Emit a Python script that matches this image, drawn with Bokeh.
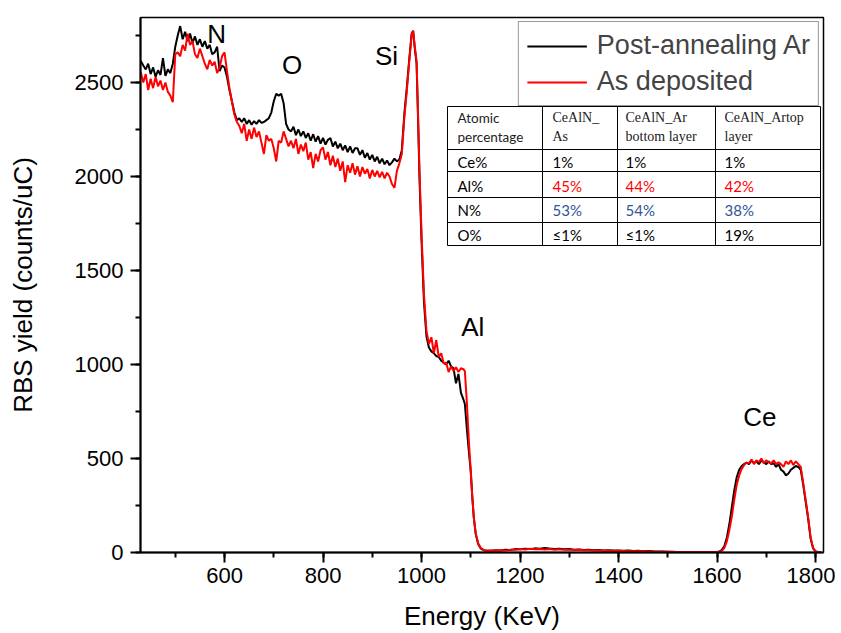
from bokeh.plotting import figure
from bokeh.models import Range1d, Legend, LegendItem, SingleIntervalTicker
from bokeh.core.properties import value
from bokeh.embed import file_html
from bokeh.resources import INLINE

# ---------------- data ----------------
energy = (list(range(430, 955, 5))
          + [955, 960, 965, 970, 975, 980, 983, 986, 990, 993, 996, 1000, 1005, 1010]
          + [1015, 1020, 1025, 1030, 1035, 1040, 1045, 1050, 1055, 1060, 1065, 1070, 1075,
             1080, 1085, 1088, 1092, 1096, 1100, 1103, 1106, 1110, 1115, 1120, 1125]
          + list(range(1130, 1610, 10))
          + list(range(1605, 1815, 5)))

post_ar = ([2615, 2590, 2570, 2600, 2545, 2580, 2530, 2565, 2540, 2630, 2535, 2570, 2550, 2600]
           + [2690, 2750, 2800, 2730, 2770, 2720, 2760, 2710, 2745, 2700, 2730, 2690, 2720, 2680,
              2700, 2650, 2660, 2690, 2560, 2590]
           + [2580, 2530, 2460, 2400, 2340, 2300, 2310, 2290, 2310, 2280, 2300, 2275, 2295, 2280,
              2300, 2285, 2290, 2300, 2310]
           + [2340, 2400, 2440, 2430, 2440, 2390, 2280, 2250]
           + [2240, 2265, 2220, 2250, 2215, 2240, 2205, 2230, 2190, 2225, 2185, 2215, 2175, 2205,
              2170, 2195, 2205, 2160, 2185, 2150, 2175, 2140, 2165, 2130, 2160, 2125, 2150, 2150,
              2115, 2140, 2100, 2125, 2090, 2115, 2080, 2105, 2070, 2095, 2065, 2085, 2060, 2075,
              2095, 2080]
           + [2090, 2140, 2330, 2470, 2620, 2760, 2775, 2690, 2600, 2300, 1980, 1660, 1330, 1150]
           + [1090, 1070, 1060, 1045, 1040, 1020, 1010, 1000, 1020, 990, 980, 900, 950, 850, 815,
              790, 660, 540, 430, 300, 190, 100, 45, 22, 14]
           + [10, 9, 12, 11, 14, 13, 18, 17, 20, 18, 22, 20, 24, 21, 19, 20, 17, 18, 15, 16,
              13, 14, 12, 13, 11, 12, 10, 11, 9, 10, 8, 9, 7, 8, 6, 5, 5, 4, 4, 3, 3, 3, 2, 2, 2, 3, 3, 4]
           + [6, 14, 35, 80, 150, 240, 330, 400, 440, 460, 470, 478, 470, 490, 475, 485, 470, 490,
              480, 470, 485, 470, 475, 455, 470, 440, 430, 410, 420, 440, 450, 460, 455, 440, 360,
              270, 180, 75, 22, 6, 3, 2])

as_deposited = ([2555, 2500, 2545, 2460, 2520, 2470, 2530, 2480, 2510, 2460, 2500, 2450, 2430, 2395]
                + [2650, 2660, 2640, 2700, 2670, 2760, 2700, 2720, 2650, 2630, 2680, 2640, 2600, 2570,
                   2620, 2590, 2610, 2550, 2580, 2640]
                + [2660, 2560, 2470, 2400, 2330, 2290, 2270, 2230, 2280, 2190, 2250, 2200, 2260, 2210,
                   2240, 2180, 2120, 2220, 2190]
                + [2200, 2150, 2080, 2190, 2180, 2240, 2200, 2160]
                + [2190, 2150, 2200, 2120, 2170, 2135, 2180, 2090, 2130, 2045, 2120, 2080, 2140, 2155,
                   2090, 2130, 2060, 2110, 2050, 2095, 2030, 2080, 1970, 2060, 2020, 2070, 2010, 2055,
                   2000, 2050, 2015, 2040, 1990, 2035, 2000, 2030, 1995, 2025, 1990, 2020, 2000, 1960,
                   1940, 2030]
                + [2070, 2120, 2310, 2450, 2610, 2755, 2775, 2700, 2610, 2330, 2020, 1700, 1370, 1180]
                + [1110, 1145, 1060, 1130, 1040, 1060, 1005, 1010, 960, 990, 965, 985, 960, 980, 975,
                   965, 800, 600, 430, 300, 190, 100, 50, 25, 15]
                + [8, 10, 9, 12, 10, 14, 15, 19, 16, 20, 17, 18, 16, 18, 15, 17, 14, 15, 13, 14,
                   12, 12, 10, 11, 9, 10, 8, 9, 8, 7, 7, 6, 6, 5, 5, 4, 4, 4, 3, 3, 3, 2, 2, 2, 2, 2, 3, 3]
                + [4, 9, 25, 60, 120, 190, 280, 360, 410, 445, 465, 478, 475, 495, 470, 490, 480, 500,
                   475, 490, 480, 475, 490, 470, 480, 470, 455, 485, 470, 490, 465, 485, 470, 455, 370,
                   280, 190, 80, 25, 6, 3, 2])

series_names = ["Post-annealing Ar", "As deposited"]

peak_labels = ["N", "O", "Si", "Al", "Ce"]
peak_x = [584, 737, 929, 1104, 1687]
peak_y = [2760, 2595, 2640, 1200, 720]

table_header_1 = ["Atomic", "CeAlN_", "CeAlN_Ar", "CeAlN_Artop"]
table_header_2 = ["percentage", "As", "bottom layer", "layer"]
table_rows = ["Ce%", "Al%", "N%", "O%"]
col_as = ["1%", "45%", "53%", "\u22641%"]
col_ar_bottom = ["1%", "44%", "54%", "\u22641%"]
col_ar_top = ["1%", "42%", "38%", "19%"]
row_colors = ["black", "#ff0000", "#2f5597", "black"]

# ---------------- figure ----------------
X0, X1, Y0, Y1 = 429.4, 1816.2, 0.0, 2845.7
p = figure(width=835, height=633, output_backend="svg", toolbar_location=None,
           x_range=Range1d(X0, X1), y_range=Range1d(Y0, Y1),
           min_border_left=140, min_border_right=12, min_border_top=17, min_border_bottom=81)
p.background_fill_color = "white"
p.border_fill_color = "white"
p.outline_line_color = "black"
p.outline_line_width = 1.5
p.xgrid.grid_line_color = None
p.ygrid.grid_line_color = None

FONT = "Liberation Sans"
for ax in (p.xaxis[0], p.yaxis[0]):
    ax.axis_line_width = 2
    ax.axis_line_color = "black"
    ax.major_tick_line_width = 2
    ax.minor_tick_line_width = 2
    ax.major_tick_line_color = "black"
    ax.minor_tick_line_color = "black"
    ax.major_tick_in = 0
    ax.minor_tick_in = 0
    ax.major_tick_out = 10
    ax.minor_tick_out = 5
    ax.major_label_text_font = FONT
    ax.major_label_text_font_size = "22px"
    ax.major_label_text_color = "black"
    ax.axis_label_text_font = FONT
    ax.axis_label_text_font_size = "26px"
    ax.axis_label_text_font_style = "normal"
    ax.axis_label_text_color = "black"

p.xaxis.ticker = SingleIntervalTicker(interval=200, num_minor_ticks=2)
p.yaxis.ticker = SingleIntervalTicker(interval=500, num_minor_ticks=2)
p.xaxis.axis_label = "Energy (KeV)"
p.yaxis.axis_label = "RBS yield (counts/uC)"
p.xaxis.major_label_standoff = 5
p.xaxis.axis_label_standoff = 15
p.yaxis.major_label_standoff = 7
p.yaxis.axis_label_standoff = 34

r_ar = p.line(energy, post_ar, line_color="black", line_width=2)
r_dep = p.line(energy, as_deposited, line_color="#ff0000", line_width=2)

p.text(x=peak_x, y=peak_y, text=peak_labels, text_font=value(FONT), text_font_size="26px",
       text_align="center", text_baseline="middle", text_color="black")

legend = Legend(items=[LegendItem(label=series_names[0], renderers=[r_ar]),
                       LegendItem(label=series_names[1], renderers=[r_dep])],
                location="top_right", label_text_font=FONT, label_text_font_size="27px",
                glyph_width=60, glyph_height=30, label_height=30, label_standoff=10,
                padding=8, spacing=5, margin=4,
                border_line_color="#333333", border_line_width=1, background_fill_alpha=1)
p.add_layout(legend)

# ---------------- inset table (placed in page pixels, converted to data units) ----------------
FL, FR, FT, FB = 140, 823, 17, 552
def dx(px):
    return X0 + (px - FL) * (X1 - X0) / (FR - FL)
def dy(py):
    return Y1 - (py - FT) * (Y1 - Y0) / (FB - FT)

col_px = [447, 542, 617, 715, 820]
row_px = [106, 149, 171, 197, 222, 245]
p.quad(left=dx(col_px[0]), right=dx(col_px[-1]), top=dy(row_px[0]), bottom=dy(row_px[-1]),
       fill_color="white", line_color=None)
xs, ys = [], []
for c in col_px:
    xs.append([dx(c), dx(c)]); ys.append([dy(row_px[0]), dy(row_px[-1])])
for r in row_px:
    xs.append([dx(col_px[0]), dx(col_px[-1])]); ys.append([dy(r), dy(r)])
p.multi_line(xs, ys, line_color="black", line_width=1)

text_px = [457, 552, 625, 724]
p.text(x=[dx(text_px[0])] * 2, y=[dy(117), dy(136)], text=[table_header_1[0], table_header_2[0]],
       text_font=value("Lato"), text_font_size="13.5px", text_align="left", text_baseline="middle",
       text_color="#222222")
p.text(x=[dx(t) for t in text_px[1:]] * 2, y=[dy(117)] * 3 + [dy(136)] * 3,
       text=table_header_1[1:] + table_header_2[1:],
       text_font=value("Liberation Serif"), text_font_size="14px", text_align="left",
       text_baseline="middle", text_color="#222222")
row_cy = [161, 185, 209, 234]
p.text(x=[dx(text_px[0])] * 4, y=[dy(c) for c in row_cy], text=table_rows,
       text_font=value("Lato"), text_font_size="15px", text_align="left", text_baseline="middle",
       text_color="black")
for ci, col in enumerate([col_as, col_ar_bottom, col_ar_top]):
    p.text(x=[dx(text_px[ci + 1])] * 4, y=[dy(c) for c in row_cy], text=col,
           text_font=value("Lato"), text_font_size="15px", text_align="left",
           text_baseline="middle", text_color=row_colors)

open("out.html", "w").write(file_html(p, INLINE))
